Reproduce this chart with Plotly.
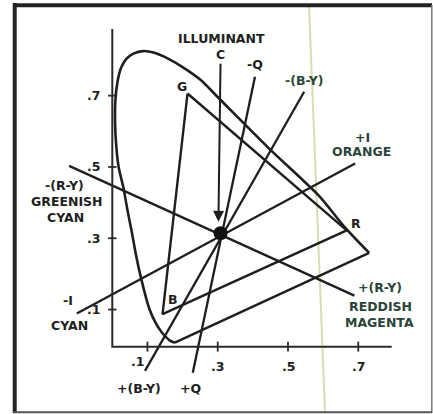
import plotly.graph_objects as go

# ---------------- data ----------------
# spectral locus, from red end round to violet end
locus_x = [0.731, 0.658, 0.589, 0.448, 0.306, 0.25, 0.2, 0.16, 0.12, 0.088, 0.06, 0.04, 0.025,
           0.015, 0.009, 0.008, 0.012, 0.018, 0.032, 0.043, 0.056, 0.068, 0.079, 0.098, 0.107,
           0.123, 0.140, 0.164, 0.178]
locus_y = [0.259, 0.335, 0.418, 0.55, 0.69, 0.745, 0.78, 0.803, 0.82, 0.825, 0.818, 0.803, 0.778,
           0.74, 0.69, 0.62, 0.55, 0.50, 0.44, 0.38, 0.315, 0.25, 0.20, 0.126, 0.098,
           0.063, 0.037, 0.013, 0.007]

# primaries (G, R, B)
prim_names = ["G", "R", "B"]
prim_x = [0.214, 0.667, 0.143]
prim_y = [0.706, 0.322, 0.087]

# illuminant C
illum_x = 0.308
illum_y = 0.314
arrow_top = [0.308, 0.794]
arrow_tip = [0.302, 0.346]

# colour-difference axes through C: (neg end, pos end)
axis_names = ["I", "R-Y", "Q", "B-Y"]
axis_neg_x = [-0.101, -0.123, 0.406, 0.546]
axis_neg_y = [0.089, 0.503, 0.753, 0.711]
axis_pos_x = [0.691, 0.689, 0.229, 0.093]
axis_pos_y = [0.510, 0.139, -0.077, -0.072]

# chart axes
tick_vals = [0.1, 0.3, 0.5, 0.7]
tick_text = [".1", ".3", ".5", ".7"]
x_axis_end = 0.795
y_axis_end = 0.887
axis_base = -0.004

# labels
label_text = ["ILLUMINANT", "C", "-Q", "-(B-Y)", "G", "+I", "ORANGE", "R",
              "-(R-Y)", "GREENISH", "CYAN", "-I", "CYAN", "B",
              "+(R-Y)", "REDDISH", "MAGENTA", "+(B-Y)", "+Q"]
label_x = [0.311, 0.308, 0.406, 0.546, 0.197, 0.711, 0.708, 0.694,
           -0.137, -0.130, -0.132, -0.126, -0.123, 0.172,
           0.762, 0.762, 0.759, 0.077, 0.222]
label_y = [0.860, 0.816, 0.787, 0.742, 0.727, 0.583, 0.543, 0.342,
           0.447, 0.403, 0.359, 0.124, 0.055, 0.127,
           0.162, 0.108, 0.064, -0.121, -0.121]
green_labels = {"-(B-Y)", "+I", "ORANGE", "+(R-Y)", "REDDISH", "MAGENTA"}

# ---------------- layout mapping (pixels) ----------------
W, H = 433, 414
PX0, PXS = 112.3, 351.4   # px = PX0 + PXS * x
PY0, PYS = 345.2, 356.5   # py = PY0 - PYS * y
xr = [(0 - PX0) / PXS, (W - PX0) / PXS]
yr = [(PY0 - H) / PYS, (PY0 - 0) / PYS]

INK = "#1e1e1e"
GREEN_INK = "#2a4538"
FONT = dict(family="DejaVu Sans", size=12.5, weight="bold")

fig = go.Figure()

# spectral locus (curved part)
fig.add_trace(go.Scatter(x=locus_x, y=locus_y, mode="lines",
                         line=dict(color=INK, width=2.6, shape="spline", smoothing=0.7),
                         hoverinfo="skip"))
# purple line
fig.add_trace(go.Scatter(x=[locus_x[-1], locus_x[0]], y=[locus_y[-1], locus_y[0]], mode="lines",
                         line=dict(color=INK, width=2.4), hoverinfo="skip"))
# primaries triangle
fig.add_trace(go.Scatter(x=prim_x + [prim_x[0]], y=prim_y + [prim_y[0]], mode="lines",
                         line=dict(color=INK, width=2.4), hoverinfo="skip"))
# colour-difference axes
for i in range(len(axis_names)):
    fig.add_trace(go.Scatter(x=[axis_neg_x[i], axis_pos_x[i]], y=[axis_neg_y[i], axis_pos_y[i]],
                             mode="lines", line=dict(color=INK, width=2.3), hoverinfo="skip"))
# chart axes
fig.add_trace(go.Scatter(x=[0, 0, x_axis_end], y=[y_axis_end, axis_base, axis_base], mode="lines",
                         line=dict(color="#2a2a2a", width=2), hoverinfo="skip"))
# tick marks
tx, ty = [], []
for v in tick_vals:
    tx += [v, v, None]
    ty += [axis_base - 0.014, axis_base + 0.014, None]
    tx += [-0.012, 0.012, None]
    ty += [v, v, None]
fig.add_trace(go.Scatter(x=tx, y=ty, mode="lines", line=dict(color="#2a2a2a", width=1.8),
                         hoverinfo="skip"))
# illuminant C arrow line
fig.add_annotation(x=arrow_tip[0], y=arrow_tip[1], ax=arrow_top[0], ay=arrow_top[1],
                   xref="x", yref="y", axref="x", ayref="y", text="", showarrow=True,
                   arrowhead=2, arrowsize=1.1, arrowwidth=2, arrowcolor=INK, standoff=0)
# illuminant C dot
fig.add_trace(go.Scatter(x=[illum_x], y=[illum_y], mode="markers",
                         marker=dict(size=14, color="#111111"), hoverinfo="skip"))

# labels
for t, x, y in zip(label_text, label_x, label_y):
    fig.add_annotation(x=x, y=y, xref="x", yref="y", text=t, showarrow=False,
                       xanchor="center", yanchor="middle",
                       font=dict(**FONT, color=GREEN_INK if t in green_labels else INK))
# tick labels
for v, t in zip(tick_vals, tick_text):
    fig.add_annotation(x=-0.028, y=v, xref="x", yref="y", text=t, showarrow=False,
                       xanchor="right", yanchor="middle",
                       font=dict(**FONT, color=INK))
    fig.add_annotation(x=v, y=-0.06, xref="x", yref="y", text=t, showarrow=False,
                       xanchor="center", yanchor="middle",
                       xshift=-10 if v == tick_vals[0] else 0,
                       yshift=5 if v == tick_vals[0] else 0,
                       font=dict(**FONT, color=INK))

# frame and scan fold line (paper coords)
def P(px, py):
    return px / W, 1 - py / H

shapes = []
x0, y0 = P(309, 5)
x1, y1 = P(325, 412)
shapes.append(dict(type="line", xref="paper", yref="paper", x0=x0, y0=y0, x1=x1, y1=y1,
                   line=dict(color="#d9dcae", width=2), layer="below"))
for (a, b, c, d, col, wdt) in [(14.7, 3, 14.7, 413, "#222222", 4),
                              (13, 5.3, 432, 5.3, "#222222", 4),
                              (431.8, 5, 431.8, 413, "#777777", 1.5),
                              (13, 412.3, 432, 412.3, "#555555", 2)]:
    xa, ya = P(a, b)
    xb, yb = P(c, d)
    shapes.append(dict(type="line", xref="paper", yref="paper", x0=xa, y0=ya, x1=xb, y1=yb,
                       line=dict(color=col, width=wdt)))

fig.update_layout(width=W, height=H, autosize=False,
                  margin=dict(l=0, r=0, t=0, b=0, pad=0),
                  paper_bgcolor="white", plot_bgcolor="white", showlegend=False,
                  xaxis=dict(range=xr, visible=False, fixedrange=True),
                  yaxis=dict(range=yr, visible=False, fixedrange=True),
                  shapes=shapes)

fig.write_html("out.html", config={"displayModeBar": False},
               post_script="document.body.style.margin='0';document.body.style.overflow='hidden';")
